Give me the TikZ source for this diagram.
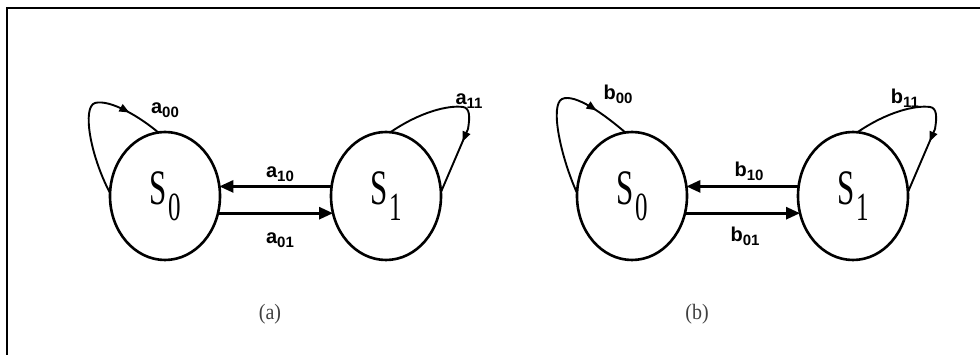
\documentclass[tikz,border=0pt]{standalone}
\usepackage{fontspec}
\setmainfont{Liberation Serif}
\newfontfamily\labfont{Liberation Sans}
\usetikzlibrary{arrows.meta,shapes.geometric,decorations.markings}
\newcommand\mylab[2]{{\labfont\bfseries\fontsize{20}{20}\selectfont #1\raisebox{-4pt}{\fontsize{15}{15}\selectfont #2}}}
\newcommand\stxt[1]{\scalebox{1}[1.6]{\fontsize{31}{31}\selectfont S\kern1.5pt\raisebox{-10pt}{\fontsize{25}{25}\selectfont #1}}}
\tikzset{
  state/.style={ellipse, draw, line width=2.6pt, minimum width=110pt, minimum height=128pt, inner sep=0pt, outer sep=0pt},
  link/.style={line width=2.8pt, -{Triangle[length=14pt,width=12pt]}},
  looparrow/.style={line width=1.9pt, postaction={decorate},
    decoration={markings, mark=at position #1 with {\arrow{Triangle[length=10pt,width=8pt]}}}},
  lbl/.style={inner sep=0pt},
  captxt/.style={inner sep=0pt, text=black!75, font=\fontsize{20}{20}\selectfont}
}
\begin{document}
\begin{tikzpicture}[x=1pt,y=1pt]
\useasboundingbox (0,0) rectangle (980,355);
\draw[line width=2.5pt] (7,0) -- (7,347) -- (980,347);
% (a)
\node[state] (A0) at (165,159) {\stxt{0}};
\node[state] (A1) at (386,159) {\stxt{1}};
\draw[link] (A1.170) -- (A0.10);
\draw[link] (A0.-18) -- (A1.198);
\draw[looparrow=0.79] (A0.177) .. controls (90,200) and (82,248) .. (95,252) .. controls (110,256) and (140,238) .. (A0.96);
\draw[looparrow=0.68] (A1.86) .. controls (420,243) and (448,250) .. (463,248) .. controls (470,247) and (470,238) .. (468,226) -- (A1.4);
\node[lbl] (la00) at (165,245) {\mylab{a}{00}};
\node[lbl] (la10) at (280,181) {\mylab{a}{10}};
\node[lbl] (la01) at (280,115) {\mylab{a}{01}};
\node[lbl] (la11) at (469,254) {\mylab{a}{11}};
\node[captxt] (capa) at (270,41) {\scalebox{1}[1.1]{(a)}};
% (b)
\node[state] (B0) at (632,159) {\stxt{0}};
\node[state] (B1) at (853,159) {\stxt{1}};
\draw[link] (B1.170) -- (B0.10);
\draw[link] (B0.-18) -- (B1.198);
\draw[looparrow=0.79] (B0.177) .. controls (560,200) and (550,250) .. (562,256) .. controls (575,262) and (605,240) .. (B0.96);
\draw[looparrow=0.68] (B1.86) .. controls (887,243) and (915,250) .. (930,248) .. controls (937,247) and (937,238) .. (935,226) -- (B1.4);
\node[lbl] (lb00) at (618,261) {\mylab{b}{00}};
\node[lbl] (lb10) at (749,184) {\mylab{b}{10}};
\node[lbl] (lb01) at (745,119) {\mylab{b}{01}};
\node[lbl] (lb11) at (905,257) {\mylab{b}{11}};
\node[captxt] (capb) at (697,41) {\scalebox{1}[1.1]{(b)}};
\end{tikzpicture}
\end{document}
